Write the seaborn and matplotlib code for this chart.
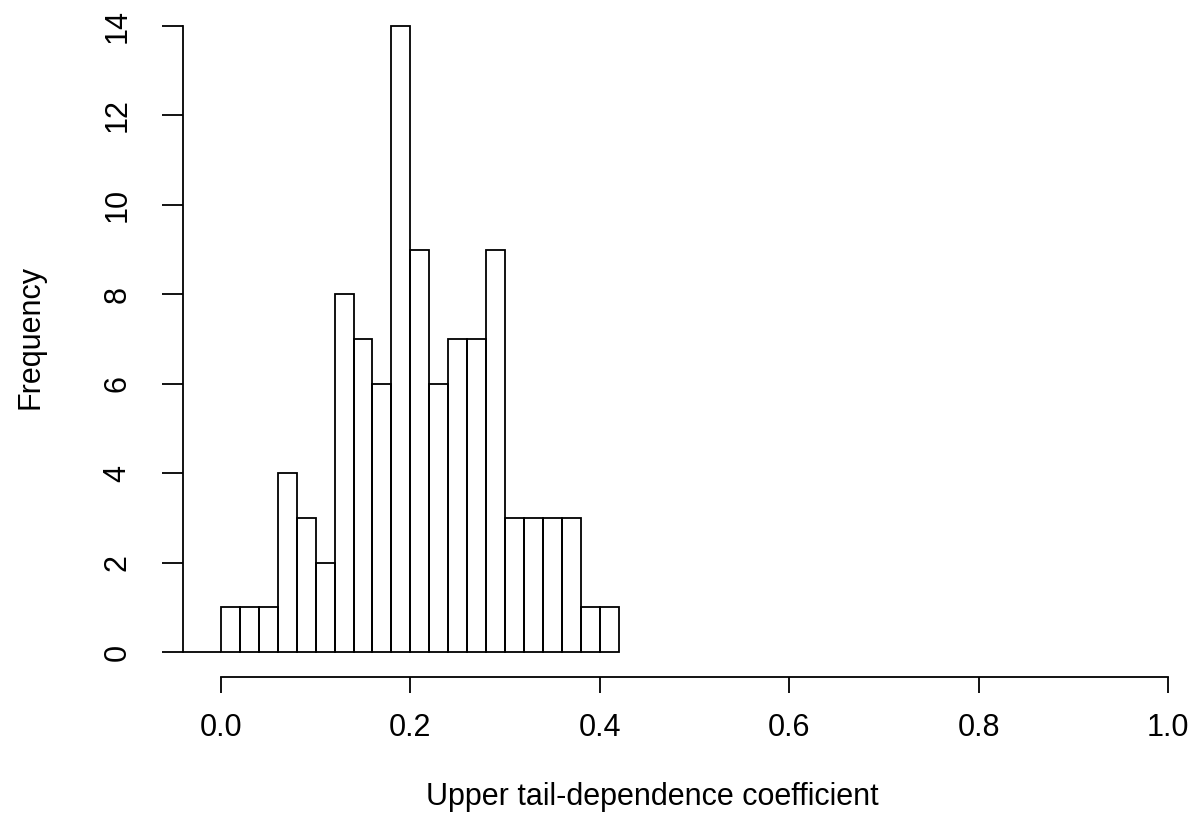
import numpy as np
import matplotlib
matplotlib.use("Agg")
import matplotlib.pyplot as plt
import seaborn as sns

# Histogram bins (left edges) and counts
bin_left = [-0.04, -0.02, 0.00, 0.02, 0.04, 0.06, 0.08, 0.10, 0.12, 0.14, 0.16,
            0.18, 0.20, 0.22, 0.24, 0.26, 0.28, 0.30, 0.32, 0.34, 0.36, 0.38, 0.40]
counts = [0, 0, 1, 1, 1, 4, 3, 2, 8, 7, 6, 14, 9, 6, 7, 7, 9, 3, 3, 3, 3, 1, 1]
bin_width = 0.02
x_ticks = [0.0, 0.2, 0.4, 0.6, 0.8, 1.0]
x_tick_labels = ["0.0", "0.2", "0.4", "0.6", "0.8", "1.0"]
y_ticks = [0, 2, 4, 6, 8, 10, 12, 14]
x_label = "Upper tail-dependence coefficient"
y_label = "Frequency"

sns.set_theme(style="white")
plt.rcParams['font.family'] = ['Liberation Sans', 'DejaVu Sans']

W, H = 1195, 816
fig = plt.figure(figsize=(W / 100, H / 100), dpi=100)
# axes region in pixels: left 183, right 1206, top 1, bottom 677
L, R, T, B = 183, 1206, 1, 677
ax = fig.add_axes([L / W, 1 - B / H, (R - L) / W, (B - T) / H])

centers = [b + bin_width / 2 for b in bin_left]
edges = bin_left + [bin_left[-1] + bin_width]
sns.histplot(x=centers, weights=counts, bins=edges, stat="count",
             fill=False, color="black", linewidth=1.3, ax=ax)

ax.set_xlim(-0.04, 1.04)
ax.set_ylim(-0.56, 14.56)

for s in ["top", "right"]:
    ax.spines[s].set_visible(False)
for s in ["left", "bottom"]:
    ax.spines[s].set_color("black")
    ax.spines[s].set_linewidth(1.3)
ax.spines["left"].set_bounds(0, 14)
ax.spines["bottom"].set_bounds(0, 1)

fs = 22
ax.set_xticks(x_ticks)
ax.set_xticklabels(x_tick_labels, fontsize=fs, color="black", va="center")
ax.set_yticks(y_ticks)
ax.set_yticklabels([str(v) for v in y_ticks], fontsize=fs, color="black",
                   rotation=90, ha="center", va="center")
ax.tick_params(axis="x", direction="out", length=11.5, width=1.3, color="black",
               pad=25, bottom=True)
ax.tick_params(axis="y", direction="out", length=15, width=1.3, color="black",
               pad=32, left=True)

ax.set_xlabel(x_label, fontsize=fs, color="black")
ax.set_ylabel(y_label, fontsize=fs, color="black")
ax.xaxis.set_label_coords((652 - L) / (R - L), (B - 797) / (B - T))
ax.xaxis.label.set_va("center")
ax.yaxis.set_label_coords((31 - L) / (R - L), (B - 337) / (B - T))
ax.yaxis.label.set_va("center")
ax.grid(False)

fig.savefig("out.png", dpi=100)
